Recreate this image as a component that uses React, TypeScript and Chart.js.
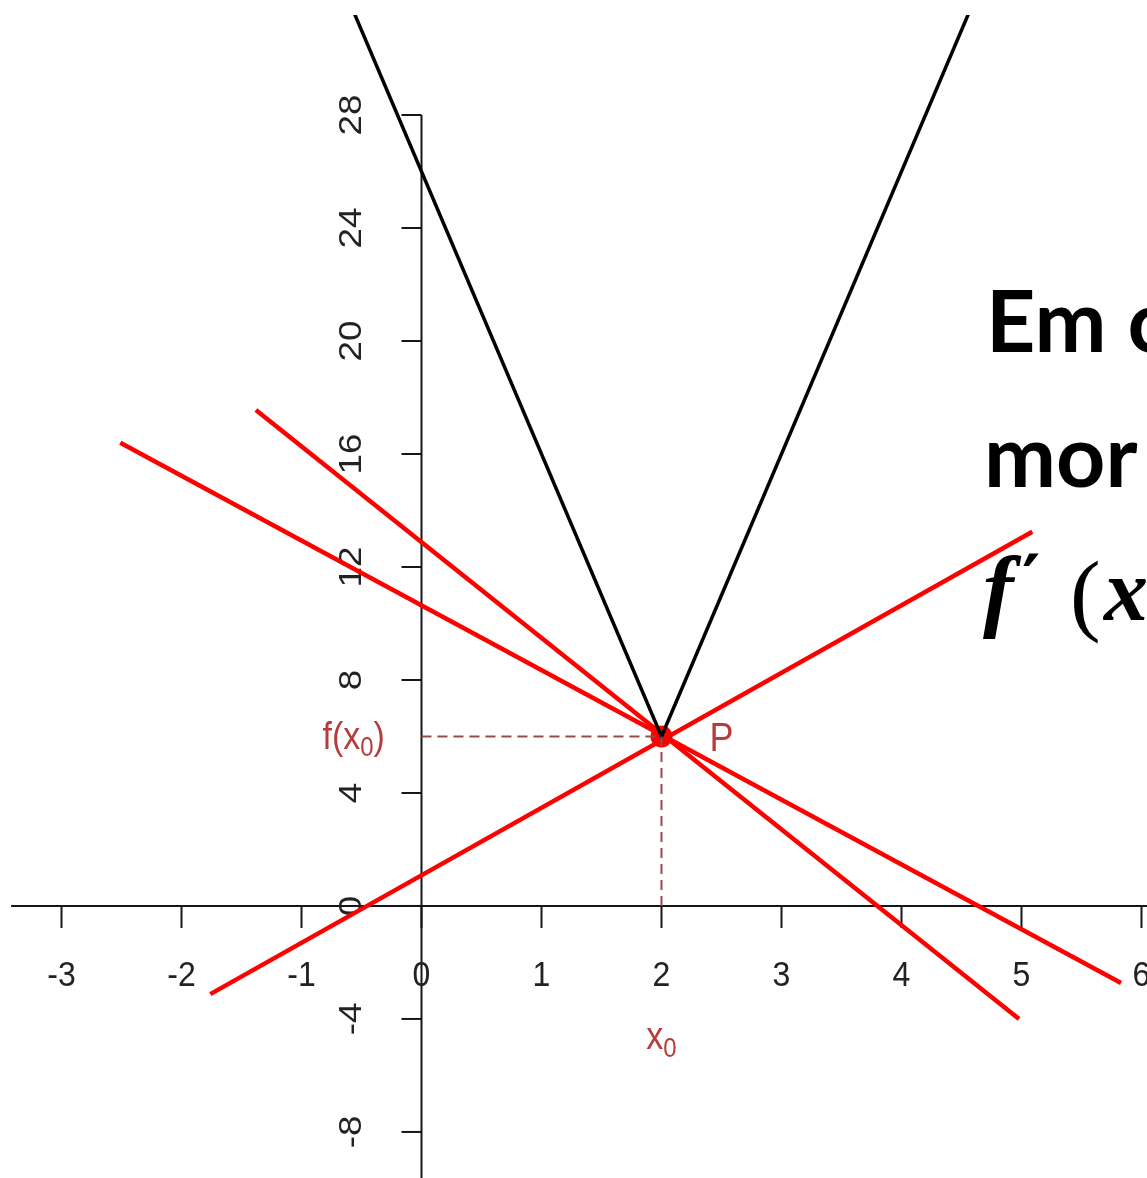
import React, { useEffect, useRef } from 'react';
import { Chart, registerables } from 'chart.js';

Chart.register(...registerables);

// ---- data ----
const curveX = [-0.6, 2, 4.6];
const curveY = [32, 6, 32];
const line1X = [-2.51, 5.83];
const line1Y = [16.4, -2.73];
const line2X = [-1.38, 4.98];
const line2Y = [17.56, -4.0];
const line3X = [-1.76, 5.09];
const line3Y = [-3.12, 13.25];
const pointX = [2];
const pointY = [6];
const xTicks = [-3, -2, -1, 0, 1, 2, 3, 4, 5, 6];
const yTicks = [-8, -4, 0, 4, 8, 12, 16, 20, 24, 28];
const xRange = [-3.5125, 6.046];
const yRange = [-9.63, 31.54];
const xAxisStart = -3.42;
const textLines = ['Em c', 'mor'];

const W = 1147;
const H = 1178;

const toPts = (xs: number[], ys: number[]) => xs.map((v, i) => ({ x: v, y: ys[i] }));

const labelColor = '#b83c3c';
const dashColor = '#9a4a4a';
const rFont = '"Liberation Sans", Arial, sans-serif';
const VS = 1.12; // vertical stretch of R text

function stretchedText(ctx: any, s: string, x: number, y: number) {
  ctx.save();
  ctx.translate(x, y);
  ctx.scale(1, VS);
  ctx.fillText(s, 0, 0);
  ctx.restore();
}

const axesPlugin = {
  id: 'rAxes',
  beforeDatasetsDraw(chart: any) {
    const { ctx } = chart;
    const xs = chart.scales.x;
    const ys = chart.scales.y;
    const x0 = xs.getPixelForValue(0);
    const y0 = ys.getPixelForValue(0);
    ctx.save();
    ctx.strokeStyle = '#161616';
    ctx.lineWidth = 2;
    ctx.lineCap = 'butt';
    // x axis
    ctx.beginPath();
    ctx.moveTo(xs.getPixelForValue(xAxisStart), y0);
    ctx.lineTo(chart.width, y0);
    ctx.stroke();
    // y axis
    ctx.beginPath();
    ctx.moveTo(x0, ys.getPixelForValue(yTicks[yTicks.length - 1]));
    ctx.lineTo(x0, chart.height);
    ctx.stroke();
    // x ticks + labels
    ctx.fillStyle = '#222';
    ctx.font = `32px ${rFont}`;
    ctx.textAlign = 'center';
    ctx.textBaseline = 'middle';
    xTicks.forEach((t) => {
      const px = xs.getPixelForValue(t);
      ctx.beginPath();
      ctx.moveTo(px, y0);
      ctx.lineTo(px, y0 + 22);
      ctx.stroke();
      stretchedText(ctx, String(t), px, y0 + 70);
    });
    // y ticks + rotated labels
    yTicks.forEach((t) => {
      const py = ys.getPixelForValue(t);
      ctx.beginPath();
      ctx.moveTo(x0, py);
      ctx.lineTo(x0 - 20, py);
      ctx.stroke();
      ctx.save();
      ctx.translate(x0 - 69, py);
      ctx.rotate(-Math.PI / 2);
      ctx.scale(1.15, 1);
      ctx.fillText(String(t), 0, 0);
      ctx.restore();
    });
    // annotation labels
    const px2 = xs.getPixelForValue(pointX[0]);
    const py6 = ys.getPixelForValue(pointY[0]);
    ctx.fillStyle = labelColor;
    ctx.textBaseline = 'alphabetic';
    ctx.textAlign = 'left';
    // f(x0)
    let cx = x0 - 99;
    const base = py6 + 13;
    ctx.font = `34px ${rFont}`;
    stretchedText(ctx, 'f(x', cx, base);
    cx += ctx.measureText('f(x').width;
    ctx.font = `24px ${rFont}`;
    stretchedText(ctx, '0', cx, base + 7);
    cx += ctx.measureText('0').width;
    ctx.font = `34px ${rFont}`;
    stretchedText(ctx, ')', cx, base);
    // P
    ctx.font = `36px ${rFont}`;
    stretchedText(ctx, 'P', px2 + 48, base + 2);
    // x0
    const xb = y0 + 143;
    ctx.font = `34px ${rFont}`;
    const wx = ctx.measureText('x').width;
    ctx.font = `24px ${rFont}`;
    const w0 = ctx.measureText('0').width;
    const sx = px2 - (wx + w0) / 2;
    ctx.font = `34px ${rFont}`;
    stretchedText(ctx, 'x', sx, xb);
    ctx.font = `24px ${rFont}`;
    stretchedText(ctx, '0', sx + wx, xb + 8);
    ctx.restore();
  },
};

const textPlugin = {
  id: 'slideText',
  afterDraw(chart: any) {
    const { ctx } = chart;
    ctx.save();
    ctx.fillStyle = '#000';
    ctx.textAlign = 'left';
    ctx.textBaseline = 'alphabetic';
    ctx.font = 'bold 86px Lato, "Open Sans", sans-serif';
    ctx.fillText(textLines[0], 986, 352);
    ctx.fillText(textLines[1], 984, 487);
    // f'(x
    const mb = 620;
    ctx.font = 'italic bold 92px "Liberation Serif", "DejaVu Serif", serif';
    ctx.fillText('f', 983, mb);
    ctx.font = 'bold 70px "DejaVu Serif", serif';
    ctx.fillText('\u2032', 1022, mb - 16);
    ctx.font = '300 92px "Liberation Serif", serif';
    ctx.fillText('(', 1070, mb + 4);
    ctx.font = 'italic bold 88px "Liberation Serif", "DejaVu Serif", serif';
    ctx.fillText('x', 1104, mb);
    ctx.restore();
  },
};

export default function App() {
  const ref = useRef<HTMLCanvasElement | null>(null);
  useEffect(() => {
    if (!ref.current) return;
    const red = '#ff0000';
    const chart = new Chart(ref.current, {
      type: 'scatter',
      data: {
        datasets: [
          {
            data: toPts([0, pointX[0]], [pointY[0], pointY[0]]),
            showLine: true,
            borderColor: dashColor,
            borderWidth: 2,
            borderDash: [10, 6],
            pointRadius: 0,
          },
          {
            data: toPts([pointX[0], pointX[0]], [0, pointY[0]]),
            showLine: true,
            borderColor: dashColor,
            borderWidth: 2,
            borderDash: [10, 6],
            pointRadius: 0,
          },
          {
            data: toPts(curveX, curveY),
            showLine: true,
            borderColor: '#000',
            borderWidth: 3.5,
            pointRadius: 0,
            clip: 0,
          },
          {
            data: toPts(line1X, line1Y),
            showLine: true,
            borderColor: red,
            borderWidth: 4.5,
            pointRadius: 0,
          },
          {
            data: toPts(line2X, line2Y),
            showLine: true,
            borderColor: red,
            borderWidth: 4.5,
            pointRadius: 0,
          },
          {
            data: toPts(line3X, line3Y),
            showLine: true,
            borderColor: red,
            borderWidth: 4.5,
            pointRadius: 0,
          },
          {
            data: toPts(pointX, pointY),
            showLine: false,
            pointRadius: 11,
            pointBackgroundColor: red,
            pointBorderWidth: 0,
          },
        ],
      } as any,
      options: {
        responsive: false,
        animation: false,
        devicePixelRatio: 1,
        events: [],
        layout: { autoPadding: false, padding: { top: 15, left: 0, right: 0, bottom: 0 } },
        plugins: { legend: { display: false }, tooltip: { enabled: false } },
        scales: {
          x: { type: 'linear', min: xRange[0], max: xRange[1], display: false },
          y: { type: 'linear', min: yRange[0], max: yRange[1], display: false },
        },
      } as any,
      plugins: [axesPlugin, textPlugin],
    });
    return () => chart.destroy();
  }, []);
  return (
    <div style={{ position: 'absolute', left: 0, top: 0, width: W, height: H, background: '#fff', overflow: 'hidden' }}>
      <canvas ref={ref} width={W} height={H} style={{ display: 'block', width: W, height: H }} />
    </div>
  );
}
